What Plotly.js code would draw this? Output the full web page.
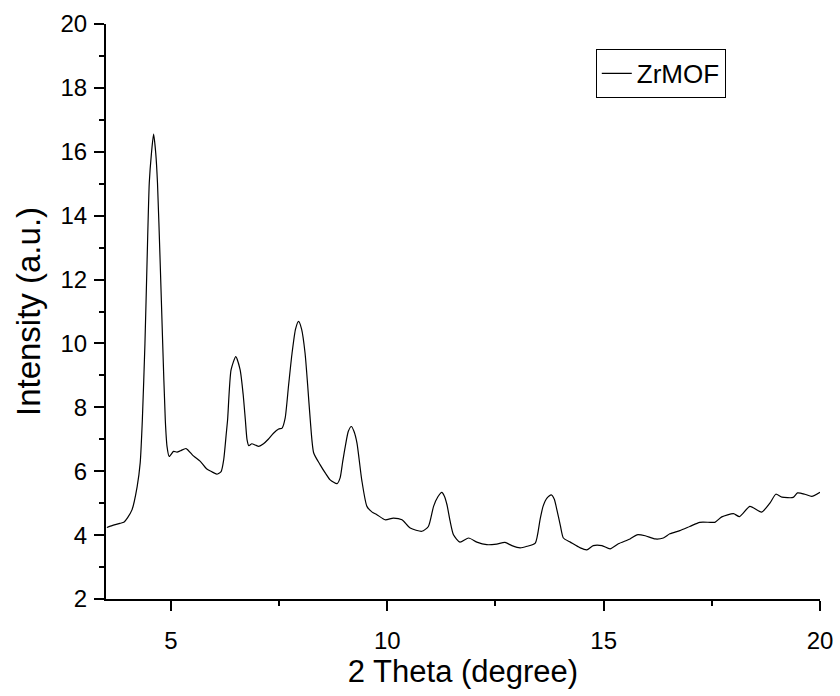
<!DOCTYPE html>
<html>
<head>
<meta charset="utf-8">
<script src="https://cdn.plot.ly/plotly-3.0.1.min.js"></script>
<style>html,body{margin:0;padding:0;background:#fff;}#chart{width:840px;height:696px;}</style>
</head>
<body>
<div id="chart"></div>
<script>
const seriesName = "ZrMOF";
const twoTheta = [3.52,3.60,3.83,3.91,4.00,4.10,4.22,4.29,4.34,4.40,4.45,4.50,4.55,4.60,4.65,4.69,4.75,4.81,4.87,4.91,4.96,5.06,5.14,5.22,5.35,5.52,5.68,5.83,5.95,6.06,6.16,6.22,6.28,6.31,6.39,6.50,6.60,6.67,6.72,6.76,6.80,6.87,6.95,7.03,7.14,7.25,7.37,7.49,7.57,7.64,7.72,7.80,7.88,7.95,8.02,8.10,8.16,8.22,8.30,8.45,8.57,8.68,8.84,8.91,8.97,9.03,9.10,9.17,9.23,9.30,9.41,9.53,9.65,9.76,9.95,10.14,10.34,10.53,10.80,10.95,11.07,11.17,11.26,11.32,11.38,11.45,11.53,11.68,11.88,12.07,12.30,12.53,12.72,12.88,13.07,13.23,13.42,13.53,13.60,13.69,13.79,13.86,13.92,14.00,14.07,14.23,14.46,14.61,14.76,14.96,15.15,15.34,15.61,15.77,15.96,16.19,16.38,16.53,16.76,16.99,17.22,17.46,17.57,17.73,18.00,18.14,18.38,18.65,18.85,18.98,19.12,19.38,19.48,19.65,19.81,20.00];
const intensity = [4.24,4.28,4.37,4.40,4.55,4.79,5.52,6.26,7.61,10.0,12.62,15.02,15.95,16.55,15.95,15.02,12.62,10.0,7.61,6.78,6.46,6.62,6.60,6.64,6.71,6.48,6.31,6.07,5.98,5.91,5.99,6.36,7.19,7.61,9.17,9.59,9.17,8.4,7.61,6.98,6.80,6.86,6.82,6.78,6.86,7.0,7.19,7.32,7.35,7.66,8.7,9.70,10.45,10.69,10.45,9.70,8.7,7.61,6.57,6.20,5.94,5.73,5.61,5.79,6.3,6.78,7.25,7.40,7.25,6.88,5.73,4.90,4.72,4.64,4.48,4.53,4.48,4.22,4.12,4.27,4.90,5.20,5.34,5.22,4.95,4.45,4.01,3.78,3.91,3.78,3.70,3.72,3.77,3.67,3.60,3.65,3.75,4.48,4.9,5.16,5.26,5.12,4.79,4.3,3.91,3.78,3.60,3.54,3.67,3.67,3.57,3.73,3.88,4.01,3.98,3.88,3.91,4.04,4.14,4.27,4.40,4.40,4.40,4.57,4.67,4.58,4.90,4.72,5.02,5.28,5.19,5.18,5.32,5.28,5.21,5.34];
const xTitle = "2 Theta (degree)";
const yTitle = "Intensity (a.u.)";

const font = "Arial, 'Liberation Sans', sans-serif";
const trace = {
  x: twoTheta, y: intensity, name: seriesName, type: "scatter", mode: "lines",
  line: {color: "#000", width: 1.2, shape: "spline", smoothing: 0.6},
  showlegend: true
};
const axisCommon = {
  showline: true, linecolor: "#000", linewidth: 2, mirror: false,
  showgrid: false, zeroline: false,
  ticks: "outside", ticklen: 10, tickwidth: 2, tickcolor: "#000",
  tickfont: {family: font, size: 24, color: "#000"},
  automargin: false
};
const layout = {
  width: 840, height: 696,
  margin: {l: 106, r: 20, t: 24, b: 97},
  paper_bgcolor: "#fff", plot_bgcolor: "#fff",
  font: {family: font, color: "#000"},
  showlegend: true,
  legend: {x: 0.777, y: 0.914, xanchor: "center", yanchor: "middle",
    bordercolor: "#000", borderwidth: 1, bgcolor: "#fff",
    font: {family: font, size: 26, color: "#000"}},
  xaxis: Object.assign({}, axisCommon, {
    range: [3.5, 20], tick0: 0, dtick: 5, ticklabelstandoff: 9,
    minor: {dtick: 2.5, tick0: 0, ticks: "outside", ticklen: 5, tickwidth: 2, tickcolor: "#000"},
    title: {text: xTitle, font: {family: font, size: 31, color: "#000"}, standoff: 0}
  }),
  yaxis: Object.assign({}, axisCommon, {
    range: [2, 20], tick0: 0, dtick: 2, ticklabelstandoff: 2,
    minor: {dtick: 1, tick0: 0, ticks: "outside", ticklen: 5, tickwidth: 2, tickcolor: "#000"},
    title: {text: yTitle, font: {family: font, size: 33, color: "#000"}, standoff: 10}
  })
};
Plotly.newPlot("chart", [trace], layout, {displayModeBar: false, staticPlot: true});
</script>
</body>
</html>
